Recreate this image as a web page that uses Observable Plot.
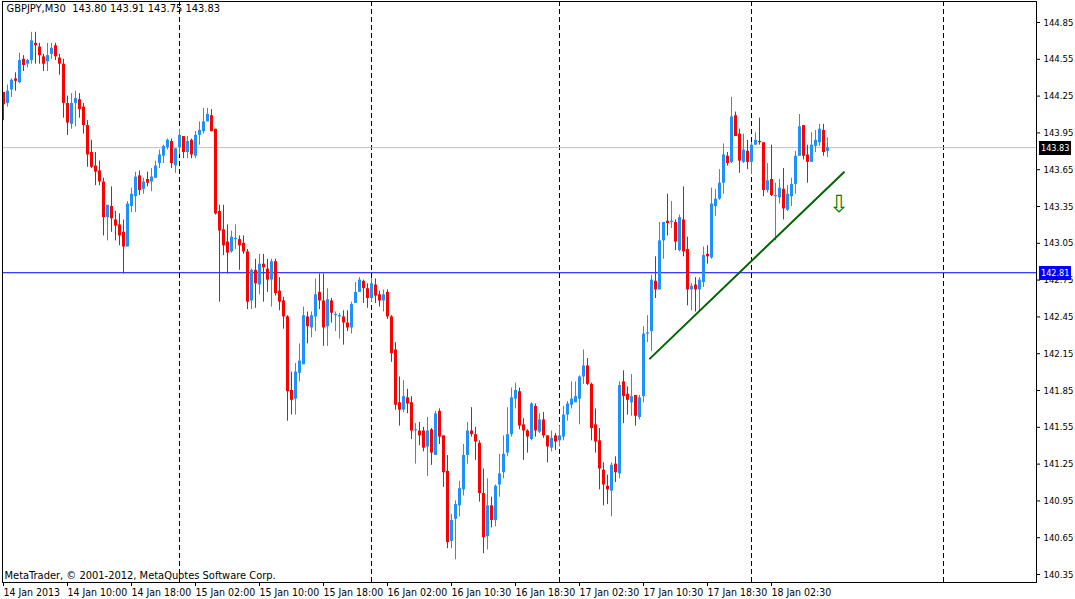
<!DOCTYPE html>
<html><head><meta charset="utf-8">
<script src="https://cdn.jsdelivr.net/npm/d3@7"></script>
<script src="https://cdn.jsdelivr.net/npm/@observablehq/plot@0.6"></script>
<style>html,body{margin:0;padding:0;background:#fff} svg{display:block}</style>
</head><body><div id="chart"></div>
<script>
const symbol = "GBPJPY", period = "M30";
const opens = [
144.28,144.19,144.30,144.39,144.36,144.55,144.51,144.54,144.68,144.65,
144.57,144.53,144.59,144.66,144.56,144.51,144.19,144.02,144.19,144.22,
144.16,144.01,143.79,143.68,143.64,143.55,143.26,143.35,143.24,143.20,
143.14,143.02,143.35,143.43,143.60,143.49,143.57,143.55,143.58,143.70,
143.76,143.83,143.88,143.68,143.83,143.92,143.79,143.89,143.76,143.93,
143.96,144.04,144.09,143.98,143.31,143.16,143.06,142.98,143.08,143.08,
143.05,142.98,142.58,142.83,142.71,142.88,142.84,142.75,142.90,142.66,
142.58,142.45,141.85,141.78,141.99,142.06,142.45,142.36,142.45,142.65,
142.58,142.37,142.58,142.46,142.45,142.45,142.40,142.36,142.56,142.65,
142.74,142.68,142.60,142.71,142.63,142.58,142.65,142.45,142.18,141.75,
141.69,141.79,141.75,141.52,141.52,141.52,141.39,141.53,141.32,141.68,
141.48,141.19,140.62,140.80,140.91,141.04,141.32,141.52,141.49,141.42,
141.01,140.66,140.91,140.79,141.08,141.18,141.34,141.49,141.78,141.84,
141.57,141.52,141.45,141.72,141.51,141.61,141.48,141.38,141.48,141.44,
141.47,141.65,141.73,141.75,141.78,141.96,142.05,141.90,141.57,141.44,
141.20,141.07,141.03,141.25,141.17,141.92,141.82,141.75,141.81,141.63,
141.80,142.31,142.33,142.74,142.67,143.07,143.23,143.22,143.22,142.99,
143.24,143.00,142.67,142.71,142.67,142.73,142.96,142.93,143.35,143.41,
143.54,143.76,143.71,144.09,143.94,143.71,143.80,143.71,143.85,143.88,
143.87,143.48,143.57,143.43,143.42,143.49,143.32,143.43,143.53,143.76,
144.01,143.77,143.71,143.84,143.87,143.97,143.80];
const highs = [
144.28,144.34,144.39,144.44,144.60,144.58,144.55,144.77,144.77,144.68,
144.59,144.68,144.68,144.68,144.59,144.55,144.25,144.27,144.29,144.27,
144.19,144.05,143.89,143.79,143.72,143.58,143.36,143.51,143.31,143.29,
143.24,143.39,143.50,143.63,143.64,143.58,143.63,143.66,143.72,143.81,
143.85,143.90,143.90,143.82,143.98,143.92,143.92,143.90,143.96,144.04,
144.15,144.15,144.14,143.98,143.36,143.36,143.20,143.15,143.20,143.11,
143.11,143.00,142.84,142.92,142.96,142.96,142.92,142.92,142.92,142.77,
142.61,142.46,142.00,142.07,142.23,142.53,142.49,142.49,142.76,142.80,
142.80,142.68,142.60,142.49,142.48,142.50,142.50,142.57,142.73,142.77,
142.75,142.72,142.76,142.76,142.66,142.67,142.67,142.46,142.24,141.96,
141.93,141.86,141.80,141.58,141.59,141.55,141.63,141.54,141.68,141.70,
141.48,141.32,140.84,140.95,141.11,141.41,141.59,141.71,141.55,141.44,
141.21,141.13,140.98,141.08,141.33,141.48,141.71,141.87,141.91,141.87,
141.62,141.53,141.75,141.74,141.66,141.67,141.48,141.52,141.50,141.56,
141.72,141.76,141.92,141.92,141.97,142.18,142.11,141.91,141.70,141.54,
141.26,141.16,141.26,141.31,141.92,142.01,141.88,141.98,141.81,141.81,
142.37,142.46,142.79,142.94,143.22,143.22,143.45,143.39,143.24,143.28,
143.51,143.10,142.72,142.77,142.77,143.02,143.03,143.50,143.49,143.65,
143.86,143.79,144.24,144.12,143.98,143.94,143.89,143.87,143.95,144.07,
143.87,143.70,143.85,143.54,143.57,143.66,143.52,143.58,143.80,144.10,
144.01,143.85,143.95,143.97,144.02,144.02,143.91];
const lows = [
144.05,144.16,144.24,144.29,144.35,144.45,144.48,144.51,144.51,144.51,
144.45,144.45,144.55,144.54,144.42,144.07,143.93,143.98,144.00,144.07,
143.94,143.67,143.66,143.52,143.52,143.11,143.07,143.14,143.07,143.03,
142.80,143.02,143.30,143.30,143.44,143.45,143.51,143.47,143.58,143.66,
143.70,143.81,143.66,143.62,143.77,143.74,143.74,143.74,143.74,143.85,
143.94,144.04,143.96,143.28,142.57,142.95,142.80,142.97,143.00,142.83,
142.96,142.51,142.51,142.52,142.63,142.57,142.65,142.53,142.62,142.50,
142.35,141.60,141.65,141.65,141.92,142.06,142.23,142.28,142.33,142.51,
142.21,142.21,142.40,142.33,142.27,142.22,142.33,142.31,142.56,142.65,
142.56,142.52,142.57,142.56,142.53,142.49,142.43,142.08,141.69,141.56,
141.67,141.66,141.45,141.25,141.40,141.35,141.15,141.24,141.32,141.41,
141.06,140.56,140.56,140.47,140.82,140.99,141.25,141.47,141.28,140.94,
140.52,140.55,140.73,140.74,140.98,141.13,141.31,141.47,141.70,141.53,
141.28,141.34,141.44,141.47,141.50,141.46,141.26,141.35,141.36,141.39,
141.44,141.60,141.70,141.75,141.57,141.90,141.89,141.44,141.34,141.04,
140.91,140.92,140.82,141.10,141.13,141.58,141.65,141.64,141.56,141.61,
141.75,142.24,142.17,142.60,142.67,142.92,143.11,143.17,142.99,142.98,
142.94,142.54,142.50,142.49,142.49,142.69,142.88,142.92,143.27,143.40,
143.45,143.68,143.70,143.92,143.62,143.70,143.65,143.61,143.85,143.85,
143.43,143.46,143.43,143.07,143.37,143.24,143.31,143.35,143.45,143.76,
143.73,143.54,143.71,143.79,143.84,143.76,143.75];
const closes = [
144.18,144.29,144.38,144.37,144.54,144.50,144.54,144.70,144.66,144.58,
144.51,144.58,144.64,144.57,144.51,144.19,144.03,144.19,144.23,144.14,
144.01,143.77,143.67,143.63,143.55,143.26,143.36,143.25,143.19,143.11,
143.02,143.37,143.45,143.59,143.48,143.55,143.54,143.59,143.68,143.77,
143.84,143.89,143.70,143.82,143.93,143.79,143.88,143.77,143.93,143.97,
144.04,144.10,143.96,143.29,143.15,143.03,142.97,143.10,143.09,143.03,
142.98,142.57,142.83,142.72,142.88,142.85,142.75,142.90,142.64,142.57,
142.45,141.84,141.77,142.00,142.09,142.46,142.37,142.46,142.63,142.58,
142.36,142.59,142.48,142.47,142.46,142.40,142.36,142.55,142.65,142.75,
142.68,142.60,142.72,142.62,142.58,142.63,142.45,142.15,141.73,141.69,
141.80,141.74,141.52,141.53,141.48,141.38,141.52,141.34,141.66,141.47,
141.18,140.61,140.79,140.92,141.05,141.32,141.52,141.49,141.43,141.01,
140.65,140.91,140.79,141.07,141.17,141.33,141.49,141.79,141.85,141.56,
141.52,141.47,141.74,141.52,141.61,141.48,141.39,141.46,141.43,141.48,
141.65,141.74,141.78,141.80,141.96,142.05,141.90,141.54,141.43,141.21,
141.08,141.04,141.24,141.18,141.89,141.80,141.77,141.80,141.64,141.79,
142.31,142.32,142.75,142.67,143.07,143.22,143.21,143.23,143.06,143.26,
142.98,142.67,142.70,142.67,142.75,142.95,142.94,143.37,143.41,143.54,
143.77,143.70,144.08,143.92,143.72,143.81,143.71,143.85,143.89,143.87,
143.48,143.56,143.44,143.44,143.50,143.33,143.45,143.53,143.76,144.00,
143.76,143.71,143.85,143.89,143.98,143.79,143.83];

const priceTicks = [140.35,140.65,140.95,141.25,141.55,141.85,142.15,142.45,142.75,143.05,143.35,143.65,143.95,144.25,144.55,144.85];
const timeTickBars = [0,16,32,48,64,80,96,112,128,144,160,176,192];
const timeTickLabels = ["14 Jan 2013","14 Jan 10:00","14 Jan 18:00","15 Jan 02:00","15 Jan 10:00","15 Jan 18:00","16 Jan 02:00","16 Jan 10:30","16 Jan 18:30","17 Jan 02:30","17 Jan 10:30","17 Jan 18:30","18 Jan 02:30"];
const daySeparatorBars = [44,92,139,187,235];
const bidPrice = 143.83;
const levelPrice = 142.81;
const trendBars = [161.6,210.1];
const trendPrices = [142.11,143.63];
const arrowBar = [208.9];
const arrowPrice = [143.37];
const copyright = "MetaTrader, \u00a9 2001-2012, MetaQuotes Software Corp.";

const UP = "#1E90FF", DOWN = "#FF0000";
const n = opens.length;
const idx = d3.range(n);
const colorOf = i => closes[i] >= opens[i] ? UP : DOWN;
const last = n - 1;
const title = `${symbol},${period}\u00a0\u00a0${opens[last].toFixed(2)} ${highs[last].toFixed(2)} ${lows[last].toFixed(2)} ${closes[last].toFixed(2)}`;
const FONT = "'DejaVu Sans Condensed','DejaVu Sans',sans-serif";

const chart = Plot.plot({
  width: 1075, height: 599,
  marginLeft: 2, marginRight: 39, marginTop: 1, marginBottom: 17,
  style: {background: "#fff", color: "#000", fontFamily: FONT, fontSize: "11px", overflow: "visible"},
  x: {type: "linear", domain: [-0.25, 258.25]},
  y: {type: "linear", domain: [140.2849, 145.0212]},
  marks: [
    Plot.ruleX(daySeparatorBars, {stroke: "#000", strokeDasharray: "5,3"}),
    Plot.ruleY([bidPrice], {stroke: "#C0C0C0"}),
    Plot.ruleY([levelPrice], {stroke: "#0000FF"}),
    Plot.ruleX(idx, {x: i => i, y1: i => lows[i], y2: i => highs[i], stroke: colorOf, strokeWidth: 1}),
    Plot.ruleX(idx, {x: i => i, y1: i => opens[i], y2: i => closes[i], stroke: colorOf, strokeWidth: 3}),
    Plot.line(trendBars.map((b, k) => ({b, p: trendPrices[k]})), {x: "b", y: "p", stroke: "#006400", strokeWidth: 2}),
    Plot.text(arrowBar, {x: d => d, y: (d, k) => arrowPrice[k], text: () => "\u21E9", fill: "#008000", fontSize: 24, fontFamily: "DejaVu Sans"}),
    Plot.text([title], {frameAnchor: "top-left", text: d => d, dx: 4, dy: 3, lineAnchor: "top", textAnchor: "start", fontSize: 11}),
    Plot.text([copyright], {frameAnchor: "bottom-left", text: d => d, dx: 2, dy: -4, lineAnchor: "bottom", textAnchor: "start", fontSize: 11}),
    Plot.axisX({ticks: timeTickBars, tickFormat: d => timeTickLabels[timeTickBars.indexOf(d)], tickSize: 4, tickPadding: 2, textAnchor: "start", label: null, fontSize: 10.5}),
    Plot.axisY({anchor: "right", ticks: priceTicks, tickFormat: d => d.toFixed(2), tickSize: 3, tickPadding: 4, label: null, fontSize: 9.5}),
    Plot.frame({stroke: "#000"})
  ]
});
document.getElementById("chart").appendChild(chart);

// price badges on the right scale
const ys = chart.scale("y");
const xr = chart.scale("x").range;
const svg = d3.select(chart);
[{v: bidPrice, bg: "#000", fg: "#fff"}, {v: levelPrice, bg: "#0000FF", fg: "#fff"}].forEach(b => {
  const yy = Math.round(ys.apply(b.v));
  const g = svg.append("g").attr("font-family", FONT).attr("font-size", 9).attr("text-anchor", "start");
  g.append("rect").attr("x", xr[1] + 3).attr("y", yy - 6).attr("width", 32).attr("height", 14).attr("fill", b.bg);
  g.append("text").attr("x", xr[1] + 5).attr("y", yy + 1).attr("dy", "0.35em").attr("fill", b.fg).text(b.v.toFixed(2));
});
</script>
</body></html>
